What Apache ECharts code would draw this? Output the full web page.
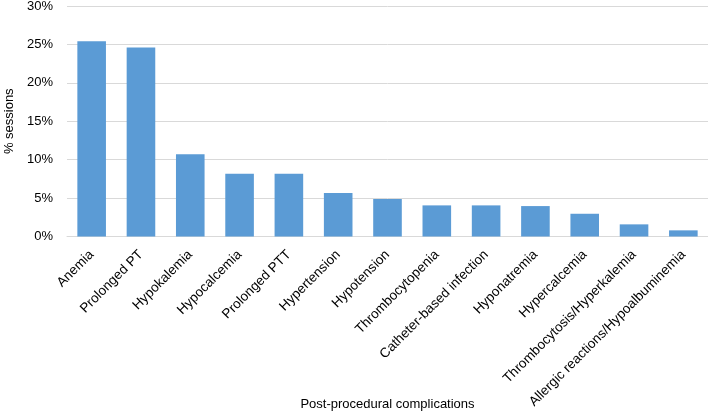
<!DOCTYPE html>
<html><head><meta charset="utf-8">
<script src="https://cdn.jsdelivr.net/npm/echarts@6/dist/echarts.min.js"></script>
<style>html,body{margin:0;padding:0;background:#fff}#c{width:708px;height:416px}</style>
</head><body><div id="c"></div>
<script>
const categories = ["Anemia","Prolonged PT","Hypokalemia","Hypocalcemia","Prolonged PTT","Hypertension","Hypotension","Thrombocytopenia","Catheter-based infection","Hyponatremia","Hypercalcemia","Thrombocytosis/Hyperkalemia","Allergic reactions/Hypoalbuminemia"];
const values = [25.4, 24.6, 10.7, 8.16, 8.16, 5.65, 4.87, 4.05, 4.05, 3.96, 2.96, 1.58, 0.8];
const yTicks = [0, 5, 10, 15, 20, 25, 30];

const chart = echarts.init(document.getElementById('c'));
const font = 'Liberation Sans, Arial, sans-serif';
chart.setOption({
  animation: false,
  grid: {left: 67, right: 0, top: 6, bottom: 179.5, containLabel: false, outerBoundsMode: 'none'},
  xAxis: {
    type: 'category', data: categories,
    name: 'Post-procedural complications', nameLocation: 'middle', nameGap: 161, nameMoveOverlap: false,
    nameTextStyle: {fontFamily: font, fontSize: 13, color: '#000'},
    axisLine: {lineStyle: {color: '#d9d9d9', width: 1}},
    axisTick: {show: false},
    axisLabel: {rotate: 45, interval: 0, margin: 16, fontFamily: font, fontSize: 13.5, color: '#000'}
  },
  yAxis: {
    type: 'value', min: yTicks[0], max: yTicks[yTicks.length-1], interval: 5,
    name: '% sessions', nameLocation: 'middle', nameGap: 50,
    nameTextStyle: {fontFamily: font, fontSize: 13, color: '#000'},
    axisLine: {show: false}, axisTick: {show: false},
    splitLine: {lineStyle: {color: '#d9d9d9', width: 1}},
    axisLabel: {margin: 14, fontFamily: font, fontSize: 13, color: '#000', formatter: v => v + '%'}
  },
  series: [{
    type: 'bar', data: values, barCategoryGap: '42%',
    itemStyle: {color: '#5b9bd5'}
  }]
});
</script></body></html>
